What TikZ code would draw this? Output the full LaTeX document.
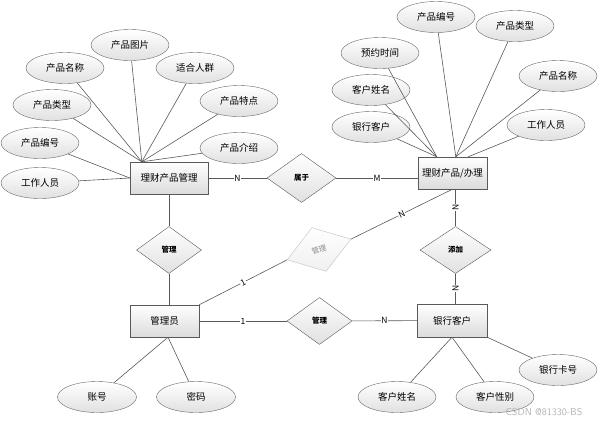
\documentclass[tikz,border=0pt]{standalone}
\usepackage{fontspec}
\newfontfamily\cjk{Noto Sans CJK SC}
\usetikzlibrary{shapes}
\tikzstyle{entity} = [rectangle, draw=black!65, top color=white, bottom color=black!14,
minimum width=69pt, minimum height=32pt, inner sep=0pt, font=\cjk\fontsize{9.5}{10}\selectfont]
\tikzstyle{attr} = [ellipse, draw=black!60, top color=white, bottom color=black!12,
minimum width=78pt, minimum height=31pt, inner sep=0pt, font=\cjk\fontsize{9.5}{10}\selectfont]
\tikzstyle{rel} = [diamond, draw=black!65, top color=white, bottom color=black!12,
minimum width=65pt, minimum height=47pt, inner sep=0pt, font=\cjk\bfseries\fontsize{7.5}{8}\selectfont]
\tikzstyle{faint} = [rel, draw=black!25, text=black!45, bottom color=black!6,
font=\cjk\fontsize{7.5}{8}\selectfont]
\tikzstyle{card} = [fill=white, inner sep=0.6pt, font=\cjk\fontsize{8.5}{9}\selectfont]
\tikzstyle{line} = [draw=black!65, line width=0.6pt]
\newcommand{\edge}[3][]{ %
  % Connect all nodes #2 to all nodes #3.
  \foreach \x in {#2} { %
    \foreach \y in {#3} { %
      \path (\x) edge [line,#1] (\y) ;%
    } ;
  } ;
}
\begin{document}
\begin{tikzpicture}[x=1pt, y=1pt]
  \useasboundingbox (0,0) rectangle (601,-424);

  % entities
  \node[entity, minimum width=78pt] (pm) at (169,-178) {理财产品管理};
  \node[entity] (ph) at (452.5,-173) {理财产品/办理};
  \node[entity] (admin) at (164.5,-321) {管理员};
  \node[entity, minimum width=70pt, minimum height=33pt] (bank) at (452,-320.5) {银行客户};

  % relations
  \node[rel, minimum width=69pt, minimum height=49pt] (sy) at (301.5,-178) {属于};
  \node[rel] (mg1) at (169,-250) {管理};
  \node[faint, rotate=18, minimum width=67pt, minimum height=46pt] (mg2) at (319,-249.5) {管理};
  \node[rel, minimum width=71pt] (tj) at (455.5,-250) {添加};
  \node[rel] (mg3) at (319.5,-321) {管理};

  % attributes of pm
  \node[attr] (p1) at (130,-45) {产品图片};
  \node[attr] (p2) at (65,-68) {产品名称};
  \node[attr] (p3) at (195,-68) {适合人群};
  \node[attr] (p4) at (52,-105) {产品类型};
  \node[attr] (p5) at (239,-101) {产品特点};
  \node[attr] (p6) at (40,-143) {产品编号};
  \node[attr] (p7) at (239,-148) {产品介绍};
  \node[attr] (p8) at (40,-183) {工作人员};
  \coordinate (pmt) at ([xshift=12pt]pm.north west);

  % attributes of ph
  \node[attr] (q1) at (436,-17) {产品编号};
  \node[attr] (q2) at (515,-26) {产品类型};
  \node[attr] (q3) at (380,-53) {预约时间};
  \node[attr] (q4) at (558,-76) {产品名称};
  \node[attr] (q5) at (371,-90) {客户姓名};
  \node[attr] (q6) at (371,-127) {银行客户};
  \node[attr] (q7) at (546,-125) {工作人员};
  \coordinate (pht1) at ([xshift=19pt]ph.north west);
  \coordinate (pht2) at ([xshift=38pt]ph.north west);
  \coordinate (pht3) at ([xshift=-19pt]ph.north east);

  % attributes of admin and bank
  \node[attr, minimum width=79pt] (k1) at (97,-397) {账号};
  \node[attr, minimum width=79pt] (k2) at (196,-397) {密码};
  \node[attr] (c1) at (397,-397) {客户姓名};
  \node[attr] (c2) at (495,-397) {客户性别};
  \node[attr] (c3) at (558,-370) {银行卡号};
  \coordinate (adb) at ([xshift=3.5pt]admin.south);

  \edge {p1,p2,p3,p4,p5,p7} {pmt};
  \edge {p6,p8} {pm.west};
  \edge {q3,q5,q6} {pht1};
  \edge {q1,q2,q4} {pht2};
  \edge {q7} {pht3};
  \edge {k1,k2} {adb};
  \edge {c1,c2} {bank.south};
  \edge {c3} {bank.south east};

  % relation lines
  \draw[line] (pm) -- node[card] {N} (sy);
  \draw[line] (sy.east) -- node[card] {M} (sy.east -| ph.west);
  \draw[line] (pm) -- (mg1);
  \draw[line] (mg1.south) -- (mg1.south |- admin.north);
  \draw[line] (admin.north east) -- node[card, sloped] {1} (mg2.west);
  \draw[line] (mg2.east) -- node[card, sloped] {N} (ph.south);
  \draw[line] (tj.north) -- node[card, rotate=90] {N} (tj.north |- ph.south);
  \draw[line] (tj.south) -- node[card, rotate=90] {N} (tj.south |- bank.north);
  \draw[line] (admin) -- node[card] {1} (mg3);
  \draw[line] (mg3) -- node[card] {N} (bank);

  \node[text=black!30, font=\sffamily\fontsize{10}{10}\selectfont] (wm) at (544,-412) {CSDN @81330-BS};
\end{tikzpicture}
\end{document}
